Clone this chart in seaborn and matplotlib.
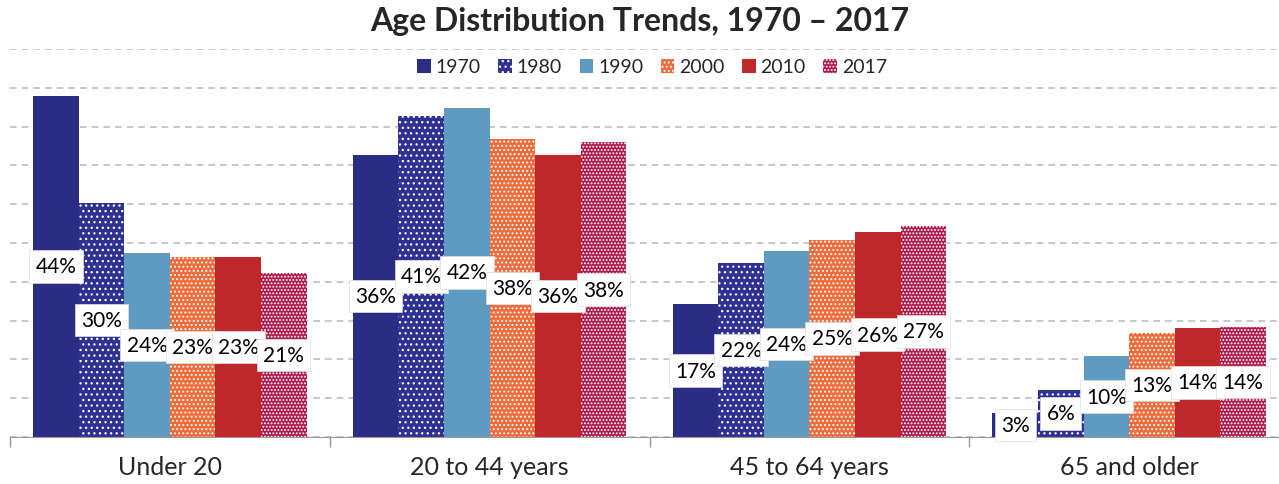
import pandas as pd
import seaborn as sns
import matplotlib.pyplot as plt
from matplotlib.patches import Patch

groups = ["Under 20", "20 to 44 years", "45 to 64 years", "65 and older"]
years = ["1970", "1980", "1990", "2000", "2010", "2017"]
pct_1970 = [44.0, 36.4, 17.1, 3.1]
pct_1980 = [30.2, 41.4, 22.4, 6.1]
pct_1990 = [23.7, 42.4, 24.0, 10.4]
pct_2000 = [23.2, 38.4, 25.4, 13.4]
pct_2010 = [23.2, 36.4, 26.4, 14.1]
pct_2017 = [21.1, 38.0, 27.2, 14.2]

faces = ["#2B2D84", "#2E3192", "#5F9BC0", "#F06A3A", "#C0272A", "#B01A4B"]
hatches = [None, "...", None, "....", None, "....."]

rows = []
for y, vals in zip(years, [pct_1970, pct_1980, pct_1990, pct_2000, pct_2010, pct_2017]):
    for g, v in zip(groups, vals):
        rows.append({"Group": g, "Year": y, "Pct": v})
df = pd.DataFrame(rows)

sns.set_style("white")
plt.rcParams["font.family"] = ["Lato", "DejaVu Sans"]
plt.rcParams["hatch.linewidth"] = 0.9

fig = plt.figure(figsize=(12.79, 4.85), dpi=100)
ax = fig.add_axes([10 / 1279, 47 / 485, 1.0, 388 / 485])

sns.barplot(data=df, x="Group", y="Pct", hue="Year", order=groups,
            hue_order=years, palette=faces, width=0.855, gap=0,
            saturation=1, ax=ax, legend=False)

for i, cont in enumerate(ax.containers):
    for bar in cont:
        bar.set_facecolor(faces[i])
        bar.set_linewidth(0)
        if hatches[i]:
            bar.set_hatch(hatches[i])
            bar.set_edgecolor("white")
        else:
            bar.set_edgecolor(faces[i])
    ax.bar_label(cont, labels=[f"{b.get_height():.0f}%" for b in cont],
                 label_type="center", fontsize=15, color="black",
                 bbox=dict(boxstyle="square,pad=0.3", fc="white", ec="#dddddd", lw=0.5))

ax.set_ylim(0, 50)
ax.set_yticks(range(0, 51, 5))
ax.set_yticklabels([])
ax.yaxis.grid(True, linestyle=(0, (4, 3)), color="#bdbdbd", linewidth=1.2)
ax.set_axisbelow(True)
ax.set_xlim(-0.5, 3.5)
ax.set_xlabel("")
ax.set_ylabel("")
ax.tick_params(axis="x", length=0, labelsize=18, pad=13)
ax.tick_params(axis="y", length=0)
ax.set_xticks([-0.5, 0.5, 1.5, 2.5, 3.5], minor=True)
ax.tick_params(axis="x", which="minor", bottom=True, length=7, width=1, color="#999999")
for s in ["top", "right", "left"]:
    ax.spines[s].set_visible(False)
ax.spines["bottom"].set_color("#999999")

handles = [Patch(facecolor=faces[i], hatch=hatches[i], edgecolor="white" if hatches[i] else faces[i], lw=0)
           for i in range(len(years))]
fig.legend(handles, years, loc="center", bbox_to_anchor=(652 / 1279, 1 - 68 / 485), ncol=6,
           frameon=False, fontsize=14, handlelength=0.7, handleheight=0.7,
           handletextpad=0.25, columnspacing=0.9)

fig.suptitle("Age Distribution Trends, 1970 – 2017", fontsize=23, fontweight="bold", y=1 - 22 / 485, va="center")
fig.savefig("out.png", dpi=100)
